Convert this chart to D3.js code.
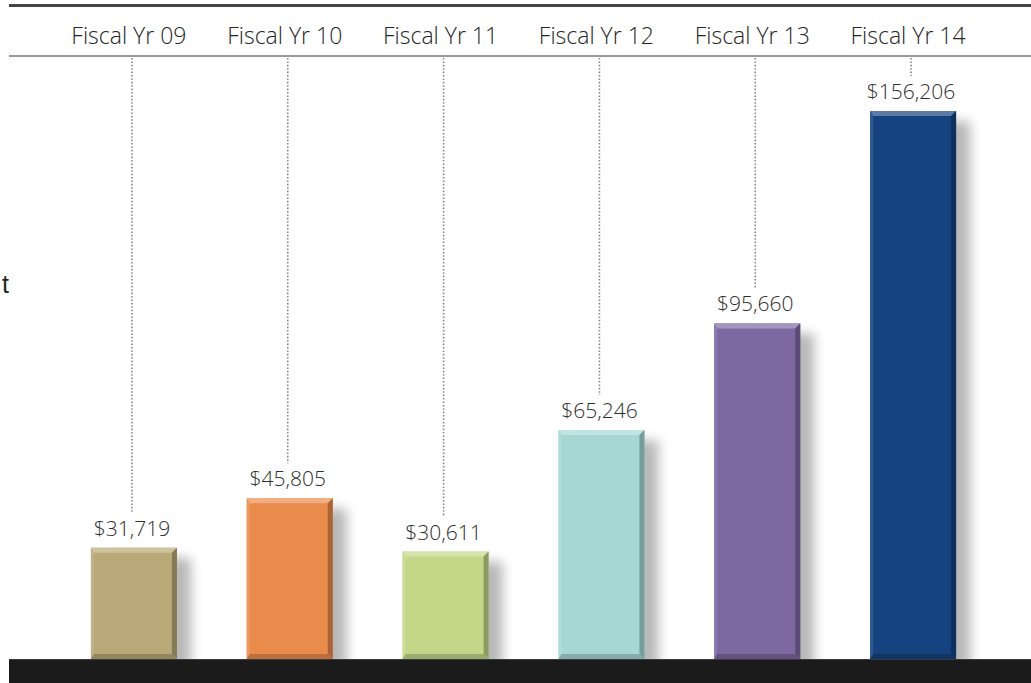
<!DOCTYPE html>
<html>
<head>
<meta charset="utf-8">
<script src="https://cdn.jsdelivr.net/npm/d3@7"></script>
<style>
  html, body { margin: 0; padding: 0; background: #fff; }
  svg { display: block; }
</style>
</head>
<body>
<svg id="chart"></svg>
<script>
// chart data
const categories = ["Fiscal Yr 09", "Fiscal Yr 10", "Fiscal Yr 11", "Fiscal Yr 12", "Fiscal Yr 13", "Fiscal Yr 14"];
const values = [31719, 45805, 30611, 65246, 95660, 156206];
const barColors = ["#b9a978", "#e98b4b", "#c3d789", "#a5d8d5", "#7d68a1", "#154380"];

const width = 1031, height = 683;
const margins = {top: 111, right: 40, bottom: 24, left: 56};
const baseY = height - margins.bottom;

const svg = d3.select("#chart")
    .attr("width", width)
    .attr("height", height)
    .style("font-family", "'Open Sans', 'Noto Sans', sans-serif");

const defs = svg.append("defs");
defs.append("filter")
    .attr("id", "shadow")
    .attr("x", "-50%").attr("y", "-10%")
    .attr("width", "200%").attr("height", "120%")
    .append("feGaussianBlur")
    .attr("stdDeviation", 6);

const xScale = d3.scaleBand()
    .domain(categories)
    .range([margins.left, margins.left + 935])
    .paddingInner(0.448)
    .paddingOuter(0.224);

const yScale = d3.scaleLinear()
    .domain([0, d3.max(values)])
    .range([baseY, margins.top]);

const fmt = d3.format("$,");

// header rules
svg.append("line")
    .attr("x1", 9).attr("x2", width)
    .attr("y1", 5.5).attr("y2", 5.5)
    .attr("stroke", "#444").attr("stroke-width", 3);

svg.append("line")
    .attr("x1", 9).attr("x2", width)
    .attr("y1", 56).attr("y2", 56)
    .attr("stroke", "#777").attr("stroke-width", 1.5);

// category labels along the top
svg.append("g")
    .selectAll("text")
    .data(categories)
    .enter().append("text")
    .attr("x", d => xScale(d) + xScale.bandwidth() / 2 - 5)
    .attr("y", 44)
    .attr("text-anchor", "middle")
    .attr("font-size", 23)
    .attr("font-weight", 350)
    .attr("fill", "#262626")
    .text(d => d);

// dotted leaders from header down to value labels
svg.append("g")
    .selectAll("line")
    .data(values)
    .enter().append("line")
    .attr("x1", (d, i) => xScale(categories[i]) + xScale.bandwidth() / 2 - 2)
    .attr("x2", (d, i) => xScale(categories[i]) + xScale.bandwidth() / 2 - 2)
    .attr("y1", 58)
    .attr("y2", d => yScale(d) - 35)
    .attr("stroke", "#888")
    .attr("stroke-width", 1.6)
    .attr("stroke-dasharray", "1.6,1.8");

// shadows
svg.append("g")
    .selectAll("rect")
    .data(values)
    .enter().append("rect")
    .attr("x", (d, i) => xScale(categories[i]) + 14)
    .attr("y", d => yScale(d) + 10)
    .attr("width", xScale.bandwidth())
    .attr("height", d => baseY - yScale(d))
    .attr("fill", "#000")
    .attr("opacity", 0.28)
    .attr("filter", "url(#shadow)");

// bars with bevelled edges
const bw = xScale.bandwidth();
const bev = 5;
const bars = svg.append("g")
    .selectAll("g")
    .data(values)
    .enter().append("g")
    .attr("transform", (d, i) => `translate(${xScale(categories[i])},${yScale(d)})`);

bars.append("rect")
    .attr("width", bw)
    .attr("height", d => baseY - yScale(d))
    .attr("fill", (d, i) => barColors[i]);

// top facet
bars.append("path")
    .attr("d", `M0,0 L${bw},0 L${bw - bev},${bev} L${bev - 2},${bev} Z`)
    .attr("fill", (d, i) => d3.interpolateRgb(barColors[i], "#fff")(0.3));

// left facet
bars.append("path")
    .attr("d", d => `M0,0 L${bev - 2},${bev} L${bev - 2},${baseY - yScale(d) - bev} L0,${baseY - yScale(d)} Z`)
    .attr("fill", (d, i) => d3.interpolateRgb(barColors[i], "#fff")(0.12));

// right facet
bars.append("path")
    .attr("d", d => `M${bw},0 L${bw},${baseY - yScale(d)} L${bw - bev},${baseY - yScale(d) - bev} L${bw - bev},${bev} Z`)
    .attr("fill", (d, i) => d3.interpolateRgb(barColors[i], "#000")(0.28));

// bottom facet
bars.append("path")
    .attr("d", d => `M0,${baseY - yScale(d)} L${bw},${baseY - yScale(d)} L${bw - bev},${baseY - yScale(d) - bev} L${bev - 2},${baseY - yScale(d) - bev} Z`)
    .attr("fill", (d, i) => d3.interpolateRgb(barColors[i], "#000")(0.2));

// value labels
svg.append("g")
    .selectAll("text")
    .data(values)
    .enter().append("text")
    .attr("x", (d, i) => xScale(categories[i]) + bw / 2 - 2)
    .attr("y", d => yScale(d) - 12)
    .attr("text-anchor", "middle")
    .attr("font-size", 21)
    .attr("font-weight", 350)
    .attr("fill", "#2e2e2e")
    .text(d => fmt(d));

// base band
svg.append("rect")
    .attr("x", 9).attr("y", baseY)
    .attr("width", width - 9).attr("height", height - baseY)
    .attr("fill", "#1b1b1b");
svg.append("line")
    .attr("x1", 9).attr("x2", width)
    .attr("y1", baseY + 0.5).attr("y2", baseY + 0.5)
    .attr("stroke", "#3a3a3a");

// clipped left text remnant
svg.append("text")
    .attr("x", 9)
    .attr("y", 293)
    .attr("text-anchor", "end")
    .attr("font-family", "'Liberation Sans', Arial, sans-serif")
    .attr("font-size", 25)
    .attr("fill", "#222")
    .text("t");
</script>
</body>
</html>
